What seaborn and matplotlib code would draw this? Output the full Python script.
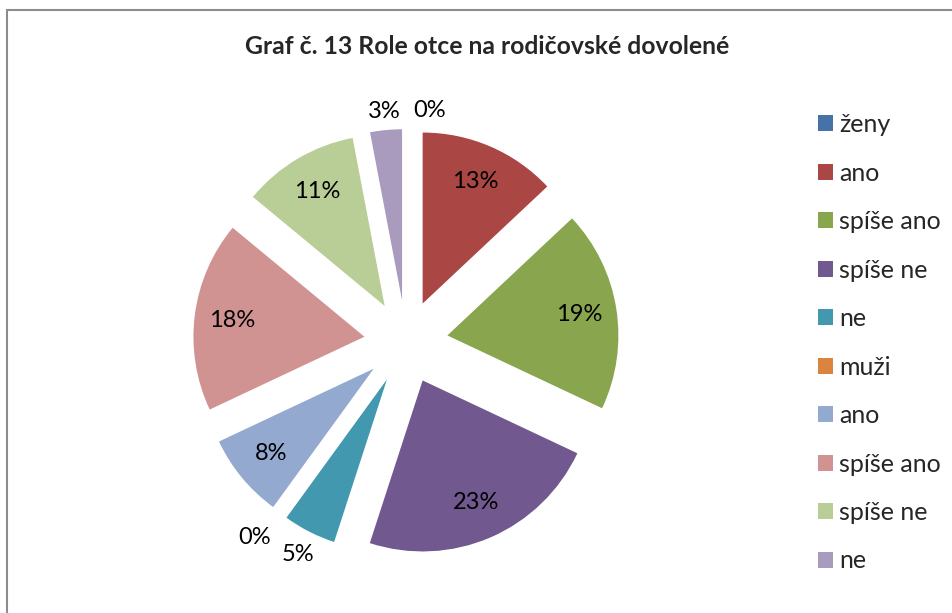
# %% Imports

import matplotlib

matplotlib.use("Agg")

import matplotlib.pyplot as plt
import numpy as np
import seaborn as sns
from matplotlib.lines import Line2D

# %% Data

categories = [
    "ženy",
    "ano",
    "spíše ano",
    "spíše ne",
    "ne",
    "muži",
    "ano",
    "spíše ano",
    "spíše ne",
    "ne",
]
shares = [0, 13, 19, 23, 5, 0, 8, 18, 11, 3]
colors = [
    "#4572A7",
    "#AA4643",
    "#89A54E",
    "#71588F",
    "#4198AF",
    "#DB843D",
    "#93A9CF",
    "#D19392",
    "#B9CD96",
    "#A99BBD",
]
title = "Graf č. 13 Role otce na rodičovské dovolené"

# %% Plot

sns.set_theme(style="white")
plt.rcParams["font.family"] = ["Lato", "DejaVu Sans"]

W, H = 953, 613
fig = plt.figure(figsize=(W / 100, H / 100), dpi=100)

# pie centred at (406, 342) px, radius 171 px
cx, cy, r = 406, 342, 171
half = 1.5 * r
ax = fig.add_axes([(cx - half) / W, (H - cy - half) / H, 2 * half / W, 2 * half / H])

wedges, texts, autotexts = ax.pie(
    shares,
    colors=colors,
    startangle=90,
    counterclock=False,
    explode=[0.245] * len(shares),
    autopct="%1.0f%%",
    pctdistance=0.78,
    textprops={"fontsize": 17, "color": "black"},
    wedgeprops={"linewidth": 0},
)
ax.set_xlim(-1.5, 1.5)
ax.set_ylim(-1.5, 1.5)

# small slices get their labels outside: (distance, clockwise nudge in deg)
outside = {0: (1.12, 7), 4: (1.15, 0), 5: (1.2, 2), 9: (1.11, 0)}
for i, (dist, nudge) in outside.items():
    w = wedges[i]
    a = np.deg2rad((w.theta1 + w.theta2) / 2 - nudge)
    autotexts[i].set_position((w.center[0] + dist * np.cos(a),
                               w.center[1] + dist * np.sin(a)))

fig.text(487 / W, 1 - 46 / H, title, ha="center", va="center",
         fontsize=17.8, fontweight="bold")

fig.legend(
    wedges,
    categories,
    loc="upper left",
    bbox_to_anchor=(818 / W, 1 - 113 / H),
    frameon=False,
    fontsize=18,
    handlelength=0.6,
    handleheight=0.6,
    handletextpad=0.25,
    labelspacing=1.02,
    borderpad=0,
    borderaxespad=0,
)

# chart border (top and left only visible)
fig.add_artist(Line2D([7 / W, 1], [1 - 9.5 / H, 1 - 9.5 / H], color="#8c8c8c", lw=1.5))
fig.add_artist(Line2D([7 / W, 7 / W], [0, 1 - 9.5 / H], color="#8c8c8c", lw=1.5))

fig.savefig("out.png", dpi=100)
